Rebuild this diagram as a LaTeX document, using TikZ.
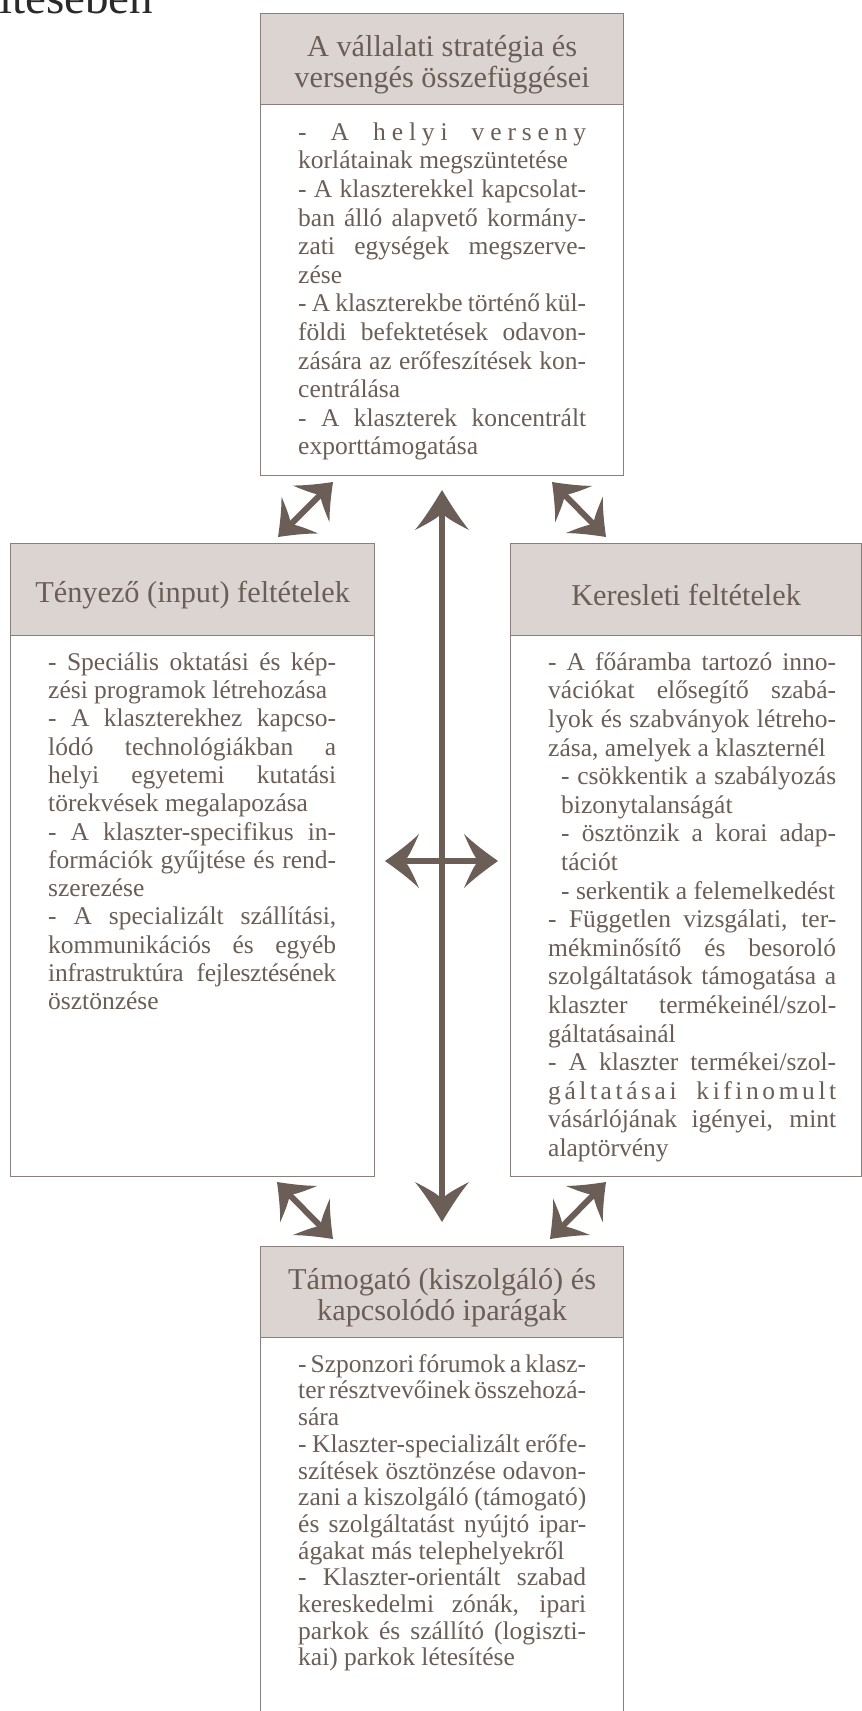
\documentclass[tikz,border=0pt]{standalone}
\usepackage{fontspec}
\setmainfont{Liberation Serif}[WordSpace={1,1,1.8}]
\usetikzlibrary{arrows.meta}

\definecolor{inkc}{HTML}{6B5E57}
\definecolor{linec}{HTML}{8A7F7A}
\definecolor{headc}{HTML}{DCD4D1}
\definecolor{captc}{HTML}{2A2A2A}

% fonts of the panels: fixed leading, no extra lineskip, font's own word spaces
\newcommand\panelfont[1]{\fontsize{25.5pt}{#1}\selectfont\lineskiplimit=-50pt\lineskip=0pt\spaceskip=0pt\xspaceskip=0pt}
\newcommand\headfont{\fontsize{30.3pt}{31.7pt}\selectfont\lineskiplimit=-50pt\lineskip=0pt}

% justified lines of the panel texts
\newlength\colw \setlength\colw{288pt}
\newcommand\jl[1]{\makebox[\colw][s]{\spaceskip=0pt\xspaceskip=0pt #1}}
\newcommand\ji[1]{\hspace*{13pt}\makebox[\dimexpr\colw-13pt\relax][s]{\spaceskip=0pt\xspaceskip=0pt #1}}
\newcommand\sub{\hspace*{13pt}}
\newcommand\firstline{\rule{0pt}{20pt}}

% filled arrow head with flared, barbed sides
\pgfdeclarearrow{
  name = Barb,
  parameters = {\the\pgfarrowlength,\the\pgfarrowwidth},
  setup code = {
    \pgfarrowssettipend{0pt}
    \pgfarrowssetbackend{-\pgfarrowlength}
    \pgfarrowssetvisualbackend{-.55\pgfarrowlength}
    \pgfarrowssetlineend{-.45\pgfarrowlength}
    \pgfarrowshullpoint{0pt}{0pt}
    \pgfarrowsupperhullpoint{-\pgfarrowlength}{.5\pgfarrowwidth}
    \pgfarrowssavethe\pgfarrowlength
    \pgfarrowssavethe\pgfarrowwidth
  },
  drawing code = {
    \pgfpathmoveto{\pgfpointorigin}
    \pgfpathcurveto{\pgfpoint{-.35\pgfarrowlength}{.155\pgfarrowwidth}}{\pgfpoint{-.7\pgfarrowlength}{.32\pgfarrowwidth}}{\pgfpoint{-\pgfarrowlength}{.5\pgfarrowwidth}}
    \pgfpathcurveto{\pgfpoint{-.86\pgfarrowlength}{.3\pgfarrowwidth}}{\pgfpoint{-.72\pgfarrowlength}{.1\pgfarrowwidth}}{\pgfpoint{-.58\pgfarrowlength}{0pt}}
    \pgfpathcurveto{\pgfpoint{-.72\pgfarrowlength}{-.1\pgfarrowwidth}}{\pgfpoint{-.86\pgfarrowlength}{-.3\pgfarrowwidth}}{\pgfpoint{-\pgfarrowlength}{-.5\pgfarrowwidth}}
    \pgfpathcurveto{\pgfpoint{-.7\pgfarrowlength}{-.32\pgfarrowwidth}}{\pgfpoint{-.35\pgfarrowlength}{-.155\pgfarrowwidth}}{\pgfpointorigin}
    \pgfpathclose
    \pgfusepathqfill
  },
  defaults = {length = 34pt, width = 54pt}
}

\begin{document}
\begin{tikzpicture}[x=1pt,y=-1pt,
  hdr/.style={draw=linec, line width=1.2pt, fill=headc, inner sep=0pt, anchor=north west},
  htext/.style={text=inkc, font=\headfont, align=center, inner sep=0pt, yshift=-5.5pt},
  panel/.style={draw=linec, line width=1.2pt, fill=white, inner sep=0pt, anchor=north west},
  bodytext/.style={text=inkc, font=\panelfont{28.6pt}, align=flush left, text width=310pt,
    inner sep=0pt, anchor=north west},
  link/.style={color=inkc, line width=6pt},
  bigtip/.style={{Barb[length=40pt,width=54pt]}-{Barb[length=40pt,width=54pt]}},
  midtip/.style={{Barb[length=34pt,width=54pt]}-{Barb[length=34pt,width=54pt]}},
  smalltip/.style={{Barb[length=31pt,width=52pt]}-{Barb[length=31pt,width=52pt]}},
]
\useasboundingbox (0,0) rectangle (862,1711);

% end of the caption line above the figure
\node[text=captc, font=\fontsize{47pt}{50pt}\selectfont, anchor=base west, inner sep=0pt] (capt) at (-1,13) {ítésében};

% ---- top panel
\node[panel, minimum width=363pt, minimum height=371pt] (topbody) at (260,104) {};
\node[hdr, minimum width=363pt, minimum height=91pt] (tophead) at (260,13) {};
\node[htext] (tophtext) at (tophead.center) {A vállalati stratégia és\\versengés összefüggései};
\node[bodytext] (toptext) at (298,120) {\firstline\jl{\addfontfeature{LetterSpace=23}- A helyi verseny}\\
korlátainak megszüntetése\\
\jl{- A klaszterekkel kapcsolat-}\\
\jl{ban álló alapvető kormány-}\\
\jl{zati egységek megszerve-}\\
zése\\
\jl{- A klaszterekbe történő kül-}\\
\jl{földi befektetések odavon-}\\
\jl{zására az erőfeszítések kon-}\\
centrálása\\
\jl{- A klaszterek koncentrált}\\
exporttámogatása};

% ---- left panel
\node[panel, minimum width=364pt, minimum height=541pt] (leftbody) at (10,635) {};
\node[hdr, minimum width=364pt, minimum height=92pt] (lefthead) at (10,543) {};
\node[htext] (lefthtext) at (lefthead.center) {Tényező (input) feltételek};
\node[bodytext, font=\panelfont{28.3pt}] (lefttext) at (48,650) {\firstline\jl{- Speciális oktatási és kép-}\\
zési programok létrehozása\\
\jl{- A klaszterekhez kapcso-}\\
\jl{lódó technológiákban a}\\
\jl{helyi egyetemi kutatási}\\
törekvések megalapozása\\
\jl{- A klaszter-specifikus in-}\\
\jl{formációk gyűjtése és rend-}\\
szerezése\\
\jl{- A specializált szállítási,}\\
\jl{kommunikációs és egyéb}\\
\jl{\addfontfeature{LetterSpace=-1}infrastruktúra fejlesztésének}\\
ösztönzése};

% ---- right panel
\node[panel, minimum width=351pt, minimum height=541pt] (rightbody) at (510,635) {};
\node[hdr, minimum width=351pt, minimum height=92pt] (righthead) at (510,543) {};
\node[htext] (righthtext) at (righthead.center) {Keresleti feltételek};
\node[bodytext] (righttext) at (548,650) {\firstline\jl{- A főáramba tartozó inno-}\\
\jl{vációkat elősegítő szabá-}\\
\jl{lyok és szabványok létreho-}\\
zása, amelyek a klaszternél\\
\ji{- csökkentik a szabályozás}\\
\sub bizonytalanságát\\
\ji{- ösztönzik a korai adap-}\\
\sub tációt\\
\sub - serkentik a felemelkedést\\
\jl{- Független vizsgálati, ter-}\\
\jl{mékminősítő és besoroló}\\
\jl{szolgáltatások támogatása a}\\
\jl{klaszter termékeinél/szol-}\\
gáltatásainál\\
\jl{- A klaszter termékei/szol-}\\
\jl{\addfontfeature{LetterSpace=14}gáltatásai kifinomult}\\
\jl{vásárlójának igényei, mint}\\
alaptörvény};

% ---- bottom panel (runs on past the lower edge)
\node[panel, minimum width=363pt, minimum height=400pt] (botbody) at (260,1337) {};
\node[hdr, minimum width=363pt, minimum height=91pt] (bothead) at (260,1246) {};
\node[htext] (bothtext) at (bothead.center) {Támogató (kiszolgáló) és\\kapcsolódó iparágak};
\node[bodytext, font=\panelfont{26.7pt}] (bottext) at (298,1352) {\firstline\jl{- Szponzori fórumok a klasz-}\\
\jl{ter résztvevőinek összehozá-}\\
sára\\
\jl{- Klaszter-specializált erőfe-}\\
\jl{szítések ösztönzése odavon-}\\
\jl{zani a kiszolgáló (támogató)}\\
\jl{és szolgáltatást nyújtó ipar-}\\
ágakat más telephelyekről\\
\jl{- Klaszter-orientált szabad}\\
\jl{kereskedelmi zónák, ipari}\\
\jl{parkok és szállító (logiszti-}\\
kai) parkok létesítése};

% ---- arrow end points
\coordinate (vUp) at (442,490);
\coordinate (vDown) at (442,1222);
\coordinate (hLeft) at (385,861);
\coordinate (hRight) at (498,861);
\coordinate (tlA) at (278,537);  \coordinate (tlB) at (333,482);
\coordinate (trA) at (552,482);  \coordinate (trB) at (606,537);
\coordinate (blA) at (277,1182); \coordinate (blB) at (333,1239);
\coordinate (brA) at (606,1182); \coordinate (brB) at (550,1239);

% ---- double arrows between the panels
\draw[link, bigtip] (vUp) -- (vDown);
\draw[link, midtip] (hLeft) -- (hRight);
\draw[link, smalltip] (tlA) -- (tlB);
\draw[link, smalltip] (trA) -- (trB);
\draw[link, smalltip] (blA) -- (blB);
\draw[link, smalltip] (brA) -- (brB);
\end{tikzpicture}
\end{document}
